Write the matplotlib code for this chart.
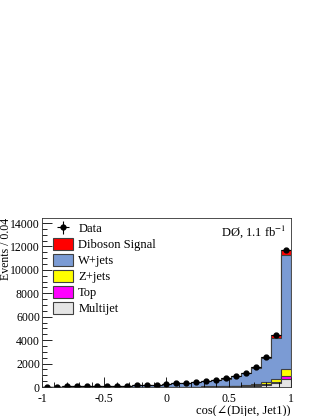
import numpy as np
import matplotlib
matplotlib.use("Agg")
import matplotlib.pyplot as plt
from matplotlib.ticker import MultipleLocator

plt.rcParams['font.family'] = ['Liberation Serif', 'DejaVu Serif']
plt.rcParams['mathtext.fontset'] = 'stix'

# 25 bins from -1 to 1
edges = np.linspace(-1, 1, 26)
centers = 0.5 * (edges[1:] + edges[:-1])

data = [30, 40, 45, 55, 65, 75, 90, 100, 120, 140, 165, 205, 260,
        320, 350, 430, 510, 600, 740, 950, 1210, 1710, 2560, 4430, 11700]
multijet = [2, 2, 3, 3, 3, 4, 4, 5, 5, 6, 7, 8, 9,
            10, 12, 14, 17, 22, 30, 45, 70, 110, 180, 300, 680]
top = [1, 1, 1, 1, 2, 2, 2, 2, 3, 3, 3, 4, 5,
       6, 7, 8, 10, 12, 15, 22, 40, 60, 90, 120, 260]
zjets = [1, 1, 2, 2, 2, 3, 3, 4, 4, 5, 6, 7, 9,
         10, 12, 14, 17, 20, 25, 35, 60, 90, 140, 250, 620]
diboson = [1, 1, 1, 2, 2, 2, 3, 3, 4, 4, 5, 6, 8,
           9, 10, 12, 15, 18, 22, 30, 40, 60, 110, 260, 400]
wjets = [d - m - t - z - s for d, m, t, z, s in zip(data, multijet, top, zjets, diboson)]

names = ["Multijet", "Top", "Z+jets", "W+jets", "Diboson Signal"]
comps = [multijet, top, zjets, wjets, diboson]
colors = ["#e5e5e5", "#ff00ff", "#ffff00", "#7b9bd4", "#ff0000"]

fig = plt.figure(figsize=(3.22, 4.16), dpi=100)
ax = fig.add_axes([0.1304, 0.0697, 0.7733, 0.4063])

cum = np.cumsum(np.array(comps, dtype=float), axis=0)
handles = {}
for i in range(len(comps) - 1, -1, -1):
    h = ax.stairs(cum[i], edges, fill=True, facecolor=colors[i],
                  edgecolor="#404040", lw=0.8)
    handles[names[i]] = h

d = np.array(data, dtype=float)
eb = ax.errorbar(centers, d, xerr=0.04, yerr=np.sqrt(d), fmt='o', color='black',
                 ms=3.5, lw=0.8, capsize=0)

ax.set_xlim(-1, 1)
ax.set_ylim(0, 14430)
ax.xaxis.set_major_locator(MultipleLocator(0.5))
ax.xaxis.set_minor_locator(MultipleLocator(0.1))
ax.yaxis.set_major_locator(MultipleLocator(2000))
ax.yaxis.set_minor_locator(MultipleLocator(500))
ax.set_xticks([-1, -0.5, 0, 0.5, 1])
ax.set_xticklabels(["-1", "-0.5", "0", "0.5", "1"])
ax.tick_params(which='both', direction='in', top=False, right=False, labelsize=8.5, width=0.6)
ax.tick_params(which='major', length=7)
ax.tick_params(which='minor', length=3.5)
ax.tick_params(axis='x', pad=4)
ax.tick_params(axis='y', pad=1.5)
for sp in ax.spines.values():
    sp.set_linewidth(0.6)
    sp.set_color('#303030')

ax.set_xlabel("cos(∠(Dijet, Jet1))", fontsize=9, loc='right', labelpad=0)
ax.set_ylabel("Events / 0.04", fontsize=8.5, loc='top')
ax.yaxis.set_label_coords(-0.122, 1.0)

ax.text(0.98, 0.92, "DØ, 1.1 fb$^{-1}$", transform=ax.transAxes, ha='right',
        va='center', fontsize=9)

leg_h = [eb] + [handles[n] for n in ["Diboson Signal", "W+jets", "Z+jets", "Top", "Multijet"]]
leg_l = ["Data", "Diboson Signal", "W+jets", "Z+jets", "Top", "Multijet"]
ax.legend(leg_h, leg_l, loc='upper left', frameon=False, fontsize=9,
          handlelength=1.6, handleheight=1.1, labelspacing=0.22,
          handletextpad=0.4, borderaxespad=0.0, bbox_to_anchor=(0.025, 1.005))

fig.savefig("out.png", dpi=100)
